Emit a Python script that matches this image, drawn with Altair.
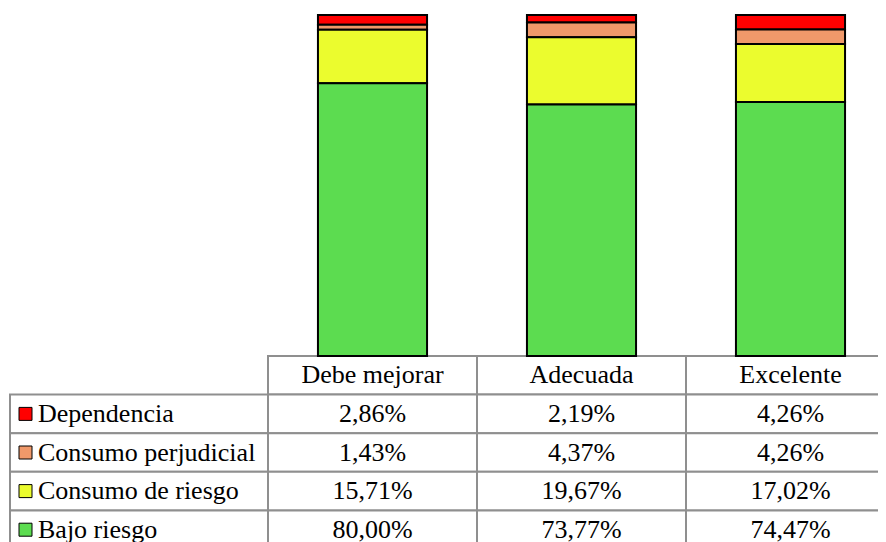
import altair as alt
import pandas as pd

categories = ["Debe mejorar", "Adecuada", "Excelente"]
series = ["Dependencia", "Consumo perjudicial", "Consumo de riesgo", "Bajo riesgo"]
colors = ["#FF0000", "#F0996A", "#EBFC2E", "#5CDC50"]
dependencia = [2.86, 2.19, 4.26]
perjudicial = [1.43, 4.37, 4.26]
consumo_riesgo = [15.71, 19.67, 17.02]
bajo_riesgo = [80.00, 73.77, 74.47]

values = [dependencia, perjudicial, consumo_riesgo, bajo_riesgo]
recs = []
for si, (s, vals) in enumerate(zip(series, values)):
    for c, v in zip(categories, vals):
        recs.append({
            "cat": c, "series": s, "row": s, "value": v,
            "order": len(series) - 1 - si,
            "label": f"{v:.2f}".replace(".", ",") + "%",
        })
df = pd.DataFrame(recs)

row_domain = ["header"] + series
df_header = pd.DataFrame({"cat": categories, "row": ["header"] * 3})
df_cells = pd.DataFrame([{"cat": c, "row": r} for c in categories for r in row_domain])
df_labels = pd.DataFrame({"series": series, "row": series})

FONT = "Liberation Serif"
FS = 26
W_VIEW = 868      # visible width (svg is clipped here)
COL_END = 885     # table continues beyond the visible area
H = 534
LABEL_W = 258
BAR_H = 341
GRID = "#8f8f8f"

bar_x = alt.X("cat:N", sort=categories,
              scale=alt.Scale(domain=categories, range=[LABEL_W, COL_END],
                              paddingInner=0.478, paddingOuter=0.239),
              axis=None)
bars = alt.Chart(df).mark_bar(stroke="black", strokeWidth=2).encode(
    x=bar_x,
    y=alt.Y("value:Q", stack="zero",
            scale=alt.Scale(domain=[0, 100], range=[BAR_H, 0]), axis=None),
    color=alt.Color("series:N", scale=alt.Scale(domain=series, range=colors), legend=None),
    order=alt.Order("order:Q"),
)

tab_x = alt.X("cat:N", sort=categories,
              scale=alt.Scale(domain=categories, range=[LABEL_W, COL_END],
                              paddingInner=0, paddingOuter=0),
              axis=None)
tab_y = alt.Y("row:N", sort=row_domain,
              scale=alt.Scale(domain=row_domain, range=[BAR_H, H],
                              paddingInner=0, paddingOuter=0),
              axis=None)

cells = alt.Chart(df_cells).mark_rect(fill="white", stroke=GRID, strokeWidth=2).encode(
    x=tab_x, y=tab_y
)
label_cells = alt.Chart(df_labels).mark_rect(fill="white", stroke=GRID, strokeWidth=2).encode(
    x=alt.value(0), x2=alt.value(LABEL_W), y=tab_y
)
header_text = alt.Chart(df_header).mark_text(font=FONT, fontSize=FS, baseline="middle",
                                             color="black").encode(
    x=tab_x, y=tab_y, text="cat:N"
)
value_text = alt.Chart(df).mark_text(font=FONT, fontSize=FS, baseline="middle",
                                     color="black").encode(
    x=tab_x, y=tab_y, text="label:N"
)
label_text = alt.Chart(df_labels).mark_text(font=FONT, fontSize=FS, baseline="middle",
                                            align="left", color="black").encode(
    x=alt.value(28), y=tab_y, text="series:N"
)
squares = alt.Chart(df_labels).mark_square(size=169, filled=True, stroke="black",
                                           strokeWidth=1, opacity=1).encode(
    x=alt.value(15.5), y=tab_y,
    color=alt.Color("series:N", scale=alt.Scale(domain=series, range=colors), legend=None),
)

chart = alt.layer(
    cells, label_cells, bars, header_text, value_text, label_text, squares
).resolve_scale(
    x="independent", y="independent"
).properties(
    width=W_VIEW, height=H,
    autosize="none",
    padding={"left": 2, "top": 7, "right": 0, "bottom": 0},
    background="white",
).configure_view(stroke=None)

chart.save("out.html", embed_options={"renderer": "svg", "actions": False})
